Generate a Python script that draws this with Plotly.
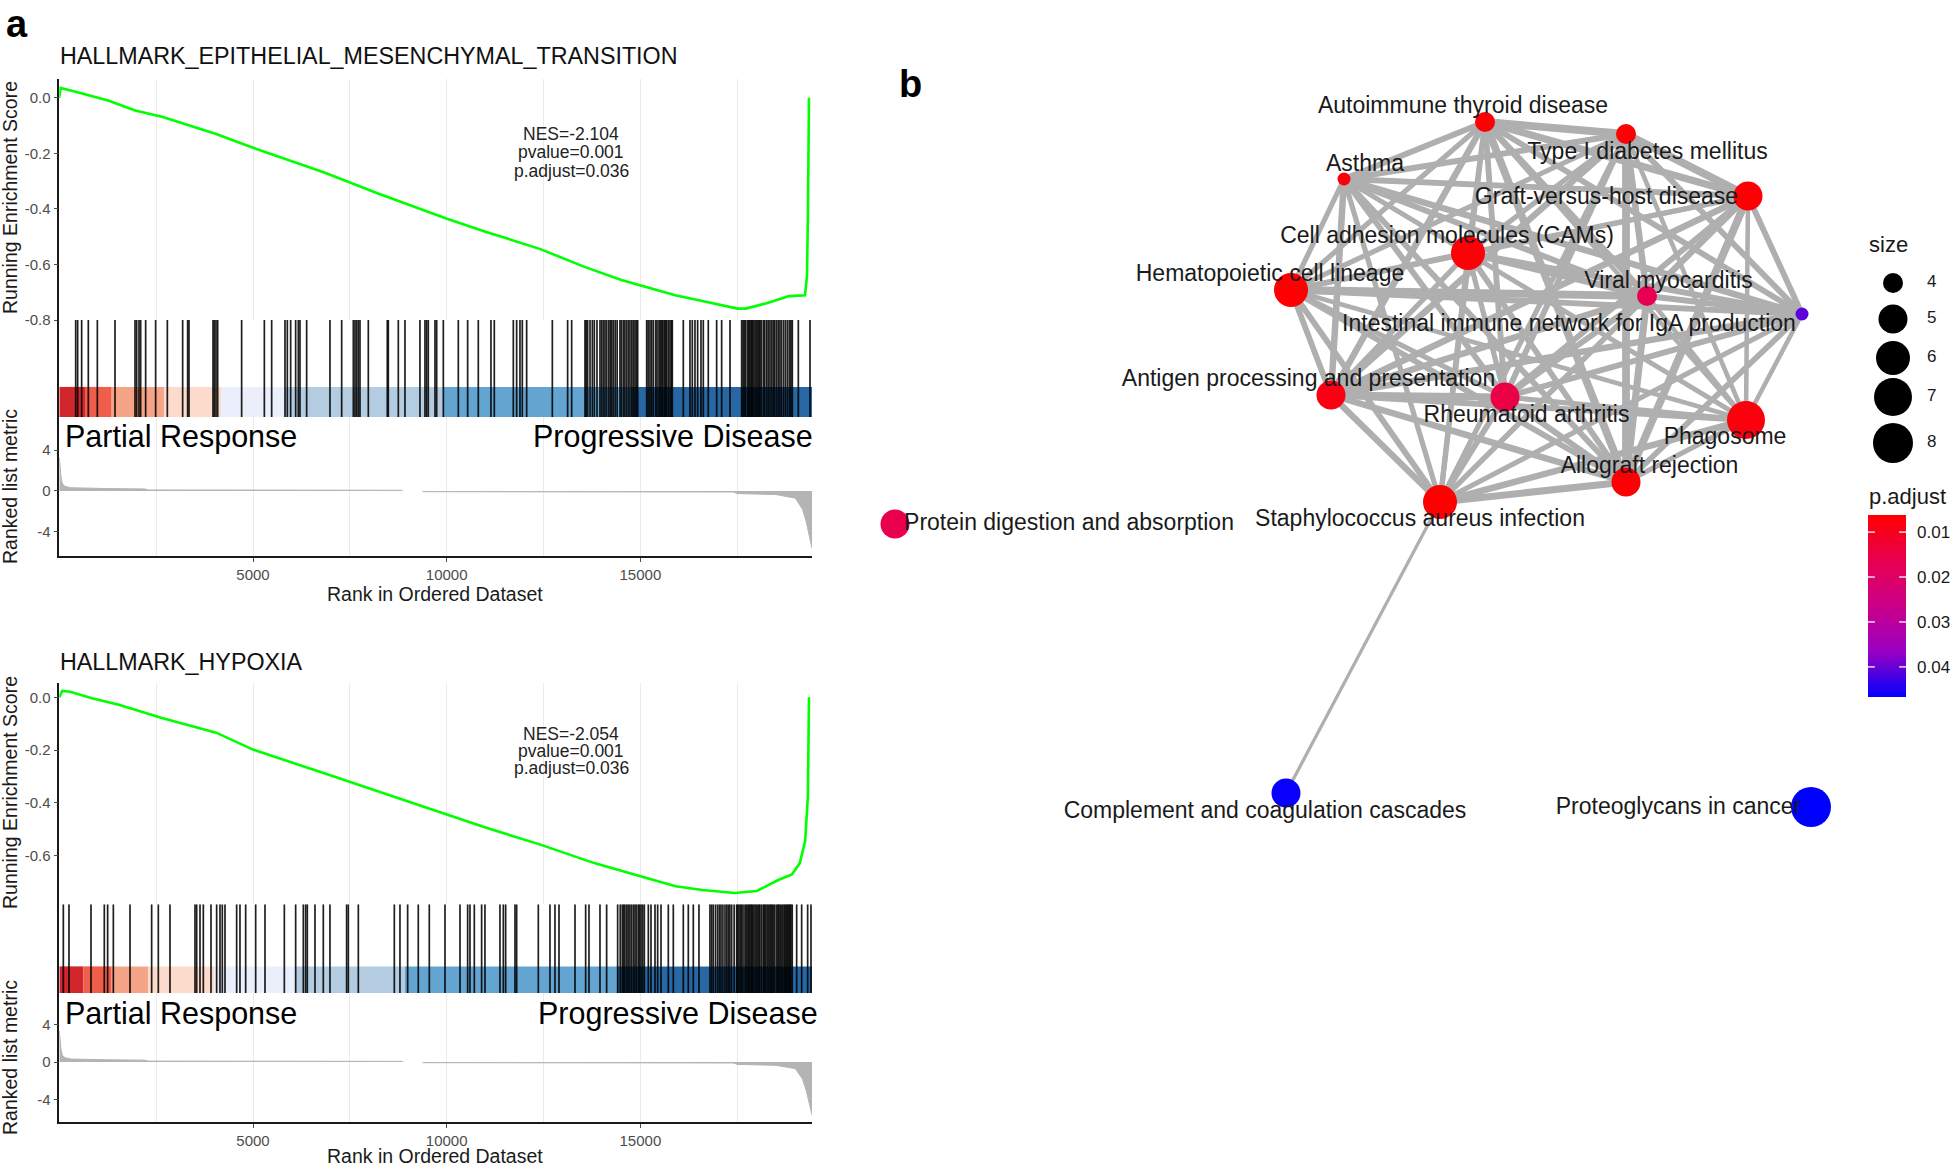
import numpy as np
import plotly.graph_objects as go

W, H = 1952, 1166
FONT = "Liberation Sans, Arial, Helvetica, sans-serif"

# ====================== DATA : panel a ======================
N_GENES = 19430
RANK_TICKS = [5000, 10000, 15000]
RANK_GRID = [2500, 5000, 7500, 10000, 12500, 15000, 17500]
RANK_MINOR = [2500, 7500, 12500, 17500]

# ranked list metric (shared by both GSEA plots)
METRIC_POS_RANK = [0, 20, 45, 80, 150, 300, 600, 1200, 2200, 2300, 5000, 8860]
METRIC_POS_VAL = [3.3, 2.3, 1.3, 0.7, 0.45, 0.32, 0.28, 0.24, 0.2, 0.1, 0.09, 0.07]
METRIC_NEG_RANK = [9380, 12000, 17400, 17500, 18500, 19000, 19185, 19280, 19340, 19400, 19430]
METRIC_NEG_VAL = [-0.07, -0.09, -0.1, -0.25, -0.35, -0.7, -1.8, -3.0, -4.0, -5.2, -5.6]

SEG_COLORS = ['#CD1016', '#EE4D37', '#F49B7A', '#FCD8C7', '#E9EEFC', '#ACC7DE', '#539BCD', '#10589B']

EMT_TITLE = "HALLMARK_EPITHELIAL_MESENCHYMAL_TRANSITION"
EMT_STATS = ["NES=-2.104", "pvalue=0.001", "p.adjust=0.036"]
EMT_ES_RANK = [0, 30, 420, 1260, 1960, 2650, 4050, 5000, 6840, 8230, 9990, 11020, 12420, 13540,
               14510, 15000, 15900, 16600, 17510, 17720, 18280, 18840, 19250, 19300, 19325, 19352]
EMT_ES = [0.0, 0.035, 0.021, -0.010, -0.046, -0.069, -0.131, -0.180, -0.269, -0.345, -0.435, -0.483,
          -0.545, -0.608, -0.656, -0.676, -0.711, -0.732, -0.759, -0.759, -0.739, -0.714, -0.711,
          -0.642, -0.421, 0.0]
EMT_SEG_BREAKS = [0, 663, 1352, 2702, 4174, 5826, 9913, 14756, 19430]
EMT_HITS = [423, 474, 577, 749, 982, 1438, 1954, 1997, 2057, 2100, 2229, 2487, 2789, 3184, 3313, 3348,
            3968, 4002, 4045, 4088, 4707, 5293, 5482, 5826, 5886, 5972, 6101, 6170, 6213, 6385, 6987,
            7289, 7590, 7633, 7676, 7719, 7762, 7977, 8467, 8493, 8751, 8923, 9310, 9439, 9482, 9525,
            9698, 9741, 9913, 10300, 10541, 10816, 11143, 11229, 11720, 11806, 11892, 11952, 12064,
            12727, 13122, 13226, 13570, 13600, 13639, 13700, 13760, 13811, 13880, 13957, 14000, 14043,
            14086, 14129, 14180, 14220, 14260, 14301, 14350, 14400, 14473, 14510, 14559, 14600, 14646,
            14690, 14732, 14780, 14820, 14861, 14900, 14930, 15162, 15200, 15248, 15290, 15334, 15394,
            15430, 15480, 15510, 15549, 15580, 15618, 15650, 15678, 15720, 15764, 15800, 15824, 16108,
            16280, 16340, 16409, 16478, 16564, 16624, 16753, 16969, 17098, 17313, 17614, 17650, 17682,
            17720, 17769, 17800, 17829, 17860, 17889, 17920, 17958, 17990, 18027, 18060, 18087, 18120,
            18173, 18210, 18259, 18300, 18345, 18390, 18431, 18470, 18517, 18560, 18603, 18646, 18700,
            18750, 18801, 18850, 18887, 18922, 19077, 19378]

HYP_TITLE = "HALLMARK_HYPOXIA"
HYP_STATS = ["NES=-2.054", "pvalue=0.001", "p.adjust=0.036"]
HYP_ES_RANK = [0, 73, 283, 840, 1540, 2650, 4050, 5000, 6840, 8230, 9990, 11020, 12420, 13810, 15000,
               15910, 16600, 17440, 18000, 18560, 18910, 19115, 19254, 19324, 19352]
HYP_ES = [0.0, 0.024, 0.021, -0.004, -0.028, -0.078, -0.134, -0.198, -0.288, -0.356, -0.445, -0.494,
          -0.558, -0.628, -0.678, -0.716, -0.730, -0.741, -0.734, -0.692, -0.671, -0.628, -0.544,
          -0.374, 0.0]
HYP_SEG_BREAKS = [0, 620, 1352, 2298, 4002, 6101, 8923, 14387, 19430]
HYP_HITS = [104, 250, 818, 1162, 1248, 1395, 1825, 2384, 2556, 2857, 3503, 3546, 3632, 3718, 3916,
            4062, 4148, 4208, 4277, 4578, 4664, 4811, 5069, 5310, 5809, 6101, 6299, 6359, 6402, 6600,
            6815, 6987, 7417, 7461, 7719, 8648, 8794, 8992, 9267, 9551, 9956, 10343, 10541, 10601,
            10713, 10902, 10988, 11375, 11462, 11522, 11763, 11806, 12365, 12666, 12795, 12899, 13312,
            13587, 13673, 13957, 14129, 14413, 14480, 14533, 14570, 14602, 14650, 14688, 14730, 14774,
            14820, 14861, 14900, 14947, 14980, 15016, 15060, 15102, 15205, 15274, 15377, 15446, 15532,
            15721, 15850, 16108, 16237, 16366, 16512, 16796, 16840, 16882, 16940, 16994, 17040, 17081,
            17130, 17184, 17230, 17270, 17310, 17356, 17420, 17485, 17510, 17545, 17580, 17614, 17650,
            17700, 17730, 17769, 17800, 17829, 17860, 17889, 17920, 17958, 17990, 18027, 18060, 18087,
            18130, 18173, 18200, 18233, 18270, 18302, 18340, 18371, 18400, 18431, 18470, 18517, 18550,
            18577, 18610, 18646, 18680, 18715, 18745, 18775, 18805, 18835, 18860, 18887, 18920, 19034,
            19163, 19318, 19404]

# ====================== DATA : panel b ======================
NODE_NAMES = ["Autoimmune thyroid disease", "Type I diabetes mellitus", "Asthma",
              "Graft-versus-host disease", "Cell adhesion molecules (CAMs)",
              "Hematopoietic cell lineage", "Viral myocarditis",
              "Intestinal immune network for IgA production",
              "Antigen processing and presentation", "Rheumatoid arthritis", "Phagosome",
              "Allograft rejection", "Staphylococcus aureus infection",
              "Protein digestion and absorption", "Complement and coagulation cascades",
              "Proteoglycans in cancer"]
NODE_X = [0.85, 2.26, -0.56, 3.48, 0.68, -1.09, 2.47, 4.02, -0.69, 1.05, 3.46, 2.26, 0.40, -5.05, -1.14, 4.11]
NODE_Y = [4.61, 4.49, 4.04, 3.87, 3.30, 2.93, 2.87, 2.69, 1.88, 1.86, 1.63, 1.01, 0.81, 0.59, -2.10, -2.24]
NODE_SIZE = [4, 4, 3, 5, 6, 6, 4, 3, 5, 5, 7, 5, 6, 5, 5, 8]
NODE_PADJ = [0.0070, 0.0068, 0.0075, 0.0066, 0.0072, 0.0064, 0.0165, 0.0405, 0.0085, 0.0150,
             0.0078, 0.0069, 0.0062, 0.0160, 0.0462, 0.0467]
LABEL_X = [0.63, 2.475, -0.35, 2.065, 0.47, -1.30, 2.685, 1.69, -0.915, 1.265, 3.25, 2.495, 0.20, -3.31, -1.35, 2.785]
LABEL_Y = [4.76, 4.30, 4.18, 3.85, 3.46, 3.08, 3.01, 2.58, 2.03, 1.67, 1.45, 1.16, 0.63, 0.59, -2.29, -2.25]

EDGE_FROM = [0]*12 + [1]*11 + [2]*10 + [3]*9 + [4]*8 + [5]*7 + [6]*6 + [7]*5 + [8]*4 + [9]*3 + [10]*2 + [11] + [12]
EDGE_TO = (list(range(1, 13)) + list(range(2, 13)) + list(range(3, 13)) + list(range(4, 13)) +
           list(range(5, 13)) + list(range(6, 13)) + list(range(7, 13)) + list(range(8, 13)) +
           list(range(9, 13)) + list(range(10, 13)) + list(range(11, 13)) + [12] + [14])
EDGE_WIDTH = [6, 4.5, 5.5, 4, 4, 5, 4.5, 5, 4.5, 3.5, 6, 4,
              4.5, 6, 4, 4, 5, 4.5, 5, 4.5, 3.5, 6, 4,
              4.5, 3.5, 4, 4.5, 5, 5, 4.5, 3.5, 4.5, 4,
              4, 4, 5, 4.5, 5, 4.5, 3.5, 6, 4,
              4.5, 5, 4.5, 4, 4, 3.5, 4.5, 4,
              6, 4.5, 4.5, 4, 3.5, 4.5, 4.5,
              4.5, 5, 4.5, 3.5, 5.5, 4,
              5, 4.5, 3.5, 4.5, 4,
              5.5, 4.5, 5, 5,
              4, 4.5, 4.5,
              4, 5,
              5.5,
              2.5]

LEGEND_SIZES = [4, 5, 6, 7, 8]
PADJ_TICKS = [0.01, 0.02, 0.03, 0.04]

# ====================== STYLE / GEOMETRY ======================
SIZE_LEVELS = [3, 4, 5, 6, 7, 8]
SIZE_PX = [13, 20, 29, 34, 38, 40]
EDGE_SCALE = 1.3
PADJ_SCALE = [[0, '#FF0000'], [0.25, '#E80050'], [0.5, '#CA0089'], [0.75, '#9A00C2'], [1, '#0000FF']]

AXC = '#1A1A1A'
TICKC = '#4D4D4D'
GRIDC = '#EBEBEB'
X_LEFT, X_RIGHT = 59.3, 812.0


def fx(px):
    return px / W


def fy(py):
    return 1 - py / H


def diam(v):
    return np.interp(v, SIZE_LEVELS, SIZE_PX)


GEOMS = [
    dict(title=EMT_TITLE, stats=EMT_STATS, es_rank=EMT_ES_RANK, es=EMT_ES, hits=EMT_HITS,
         seg=EMT_SEG_BREAKS, title_y=55.5, es_dom=(78.5, 320), rug_dom=(320, 417), rank_dom=(417, 556),
         es_range=[-0.8, 0.069], es_ticks=[0, -0.2, -0.4, -0.6, -0.8], rank_range=[-6.37, 7.25],
         es_title_y=198, rank_title_y=487, xtitle_y=594, pr_y=437, pd_right=815,
         nes_y=[134, 152.5, 171], cb_frac=0.31),
    dict(title=HYP_TITLE, stats=HYP_STATS, es_rank=HYP_ES_RANK, es=HYP_ES, hits=HYP_HITS,
         seg=HYP_SEG_BREAKS, title_y=662, es_dom=(682.5, 904.3), rug_dom=(904.3, 993), rank_dom=(993, 1122),
         es_range=[-0.784, 0.056], es_ticks=[0, -0.2, -0.4, -0.6], rank_range=[-6.36, 7.32],
         es_title_y=793, rank_title_y=1058, xtitle_y=1156, pr_y=1014, pd_right=820,
         nes_y=[733.6, 751.4, 768.2], cb_frac=0.30),
]

fig = go.Figure()
layout = dict(width=W, height=H, margin=dict(l=0, r=0, t=0, b=0, autoexpand=False), paper_bgcolor='white',
              plot_bgcolor='rgba(0,0,0,0)', showlegend=False, font=dict(family=FONT, color='#1A1A1A'))
annotations = []


def axname(n):
    return '' if n == 1 else str(n)


for gi, G in enumerate(GEOMS):
    n_es, n_rug, n_rank = 3 * gi + 1, 3 * gi + 2, 3 * gi + 3
    xd = [fx(X_LEFT), fx(X_RIGHT)]
    layout['xaxis' + axname(n_es)] = dict(domain=xd, range=[0, N_GENES], anchor='y' + axname(n_es),
                                          tickvals=RANK_GRID, showticklabels=False, ticks='',
                                          showgrid=True, gridcolor=GRIDC, gridwidth=1, zeroline=False,
                                          showline=False)
    layout['yaxis' + axname(n_es)] = dict(domain=[fy(G['es_dom'][1]), fy(G['es_dom'][0])], range=G['es_range'],
                                          anchor='x' + axname(n_es), tickvals=G['es_ticks'],
                                          ticktext=['%.1f' % v for v in G['es_ticks']],
                                          ticks='outside', ticklen=4, tickcolor=TICKC, tickwidth=1,
                                          tickfont=dict(size=15, color=TICKC), showgrid=False, zeroline=False,
                                          showline=True, linecolor=AXC, linewidth=1.6)
    layout['xaxis' + axname(n_rug)] = dict(domain=xd, range=[0, N_GENES], anchor='y' + axname(n_rug),
                                           visible=False)
    layout['yaxis' + axname(n_rug)] = dict(domain=[fy(G['rug_dom'][1]), fy(G['rug_dom'][0])], range=[0, 1],
                                           anchor='x' + axname(n_rug), showticklabels=False, ticks='',
                                           showgrid=False, zeroline=False, showline=True, linecolor=AXC,
                                           linewidth=1.6)
    layout['xaxis' + axname(n_rank)] = dict(domain=xd, range=[0, N_GENES], anchor='y' + axname(n_rank),
                                            tickvals=RANK_TICKS, ticktext=[str(v) for v in RANK_TICKS],
                                            ticks='outside', ticklen=4, tickcolor=TICKC,
                                            tickfont=dict(size=15, color=TICKC), showgrid=True,
                                            gridcolor=GRIDC, zeroline=False, showline=True, linecolor=AXC,
                                            linewidth=1.6,
                                            minor=dict(tickvals=RANK_MINOR, showgrid=True, gridcolor=GRIDC,
                                                       ticks=''))
    layout['yaxis' + axname(n_rank)] = dict(domain=[fy(G['rank_dom'][1]), fy(G['rank_dom'][0])],
                                            range=G['rank_range'], anchor='x' + axname(n_rank),
                                            tickvals=[4, 0, -4], ticktext=['4', '0', '-4'], ticks='outside',
                                            ticklen=4, tickcolor=TICKC, tickfont=dict(size=15, color=TICKC),
                                            showgrid=False, zeroline=False, showline=True, linecolor=AXC,
                                            linewidth=1.6)

    fig.add_trace(go.Scatter(x=METRIC_POS_RANK, y=METRIC_POS_VAL, mode='lines', fill='tozeroy',
                             fillcolor='#B4B4B4', line=dict(color='#B4B4B4', width=1),
                             xaxis='x' + axname(n_rank), yaxis='y' + axname(n_rank), hoverinfo='skip'))
    fig.add_trace(go.Scatter(x=METRIC_NEG_RANK, y=METRIC_NEG_VAL, mode='lines', fill='tozeroy',
                             fillcolor='#B4B4B4', line=dict(color='#B4B4B4', width=1),
                             xaxis='x' + axname(n_rank), yaxis='y' + axname(n_rank), hoverinfo='skip'))
    rx, ry = [], []
    for h in G['hits']:
        rx += [h, h, None]
        ry += [0, 1, None]
    fig.add_trace(go.Scatter(x=rx, y=ry, mode='lines', line=dict(color='rgba(0,0,0,0.88)', width=1.7),
                             xaxis='x' + axname(n_rug), yaxis='y' + axname(n_rug), hoverinfo='skip'))
    seg = G['seg']
    mids = [(a + b) / 2 for a, b in zip(seg[:-1], seg[1:])]
    wid = [b - a for a, b in zip(seg[:-1], seg[1:])]
    fig.add_trace(go.Bar(x=mids, y=[G['cb_frac']] * len(mids), width=wid, base=0,
                         marker=dict(color=SEG_COLORS, line=dict(width=0)), opacity=0.9,
                         xaxis='x' + axname(n_rug), yaxis='y' + axname(n_rug), hoverinfo='skip'))
    fig.add_trace(go.Scatter(x=G['es_rank'], y=G['es'], mode='lines', line=dict(color='#00FF00', width=2.6),
                             xaxis='x' + axname(n_es), yaxis='y' + axname(n_es), hoverinfo='skip'))

    annotations.append(dict(text=G['title'], x=fx(58), y=fy(G['title_y']), xref='paper', yref='paper',
                            xanchor='left', yanchor='middle', showarrow=False,
                            font=dict(size=23.3, color='#111111')))
    for s, yy in zip(G['stats'], G['nes_y']):
        annotations.append(dict(text=s, x=fx(571), y=fy(yy), xref='paper', yref='paper', xanchor='center',
                                yanchor='middle', showarrow=False, font=dict(size=17.5, color='#222222')))
    annotations.append(dict(text='Partial Response', x=fx(63), y=fy(G['pr_y']), xref='paper', yref='paper',
                            xanchor='left', yanchor='middle', showarrow=False,
                            font=dict(size=30.5, color='#000000')))
    annotations.append(dict(text='Progressive Disease', x=fx(G['pd_right']), y=fy(G['pr_y']), xref='paper',
                            yref='paper', xanchor='right', yanchor='middle', showarrow=False,
                            font=dict(size=30.5, color='#000000')))
    annotations.append(dict(text='Running Enrichment Score', x=fx(10), y=fy(G['es_title_y']), xref='paper',
                            yref='paper', xanchor='center', yanchor='middle', textangle=-90, showarrow=False,
                            font=dict(size=19.5, color='#1A1A1A')))
    annotations.append(dict(text='Ranked list metric', x=fx(10), y=fy(G['rank_title_y']), xref='paper',
                            yref='paper', xanchor='center', yanchor='middle', textangle=-90, showarrow=False,
                            font=dict(size=19.5, color='#1A1A1A')))
    annotations.append(dict(text='Rank in Ordered Dataset', x=fx(435), y=fy(G['xtitle_y']), xref='paper',
                            yref='paper', xanchor='center', yanchor='middle', showarrow=False,
                            font=dict(size=19.5, color='#1A1A1A')))

# ====================== panel b network ======================
layout['xaxis7'] = dict(domain=[fx(850), fx(1950)], range=[-5.5, 5.5], anchor='y7', visible=False)
layout['yaxis7'] = dict(domain=[0, 1], range=[-5.83, 5.83], anchor='x7', visible=False)

widths = sorted(set(EDGE_WIDTH))
for wv in widths:
    ex, ey = [], []
    for f, t, ww in zip(EDGE_FROM, EDGE_TO, EDGE_WIDTH):
        if ww == wv:
            ex += [NODE_X[f], NODE_X[t], None]
            ey += [NODE_Y[f], NODE_Y[t], None]
    fig.add_trace(go.Scatter(x=ex, y=ey, mode='lines', line=dict(color='#AFAFAF', width=wv * EDGE_SCALE),
                             xaxis='x7', yaxis='y7', hoverinfo='skip'))

cmin, cmax = min(NODE_PADJ), max(NODE_PADJ)
fig.add_trace(go.Scatter(
    x=NODE_X, y=NODE_Y, mode='markers', xaxis='x7', yaxis='y7', hoverinfo='skip',
    marker=dict(size=diam(NODE_SIZE), color=NODE_PADJ, colorscale=PADJ_SCALE,
                cmin=cmin, cmax=cmax, line=dict(width=0), opacity=1, showscale=False)))

fig.add_trace(go.Scatter(x=LABEL_X, y=LABEL_Y, mode='text', text=NODE_NAMES, textposition='middle center',
                         textfont=dict(size=23, color='#1A1A1A', family=FONT), xaxis='x7', yaxis='y7',
                         hoverinfo='skip'))

# size legend
LEG_V = [3.00, 2.64, 2.25, 1.86, 1.40]
fig.add_trace(go.Scatter(x=[4.93] * len(LEGEND_SIZES), y=LEG_V, mode='markers',
                         marker=dict(size=diam(LEGEND_SIZES), color='black', opacity=1, line=dict(width=0)),
                         xaxis='x7', yaxis='y7', hoverinfo='skip'))
fig.add_trace(go.Scatter(x=[5.27] * len(LEGEND_SIZES), y=LEG_V, mode='text',
                         text=[str(s) for s in LEGEND_SIZES], textposition='middle right',
                         textfont=dict(size=17, color='#1A1A1A', family=FONT), xaxis='x7', yaxis='y7',
                         hoverinfo='skip'))

# p.adjust colour legend (reversed: low values on top, as in ggplot)
grad = np.linspace(cmin, cmax, 120)
layout['xaxis8'] = dict(domain=[fx(1868), fx(1906)], range=[-0.5, 0.5], anchor='y8', visible=False)
layout['yaxis8'] = dict(domain=[fy(697), fy(515)], range=[cmax, cmin], anchor='x8', side='right',
                        tickvals=PADJ_TICKS, ticktext=['%.2f' % v for v in PADJ_TICKS], ticks='',
                        ticklabelstandoff=10, tickfont=dict(size=17, color='#1A1A1A'),
                        showgrid=False, zeroline=False, showline=False)
fig.add_trace(go.Heatmap(z=[[v] for v in grad], x=[0], y=grad, colorscale=PADJ_SCALE, zmin=cmin, zmax=cmax,
                         showscale=False, xaxis='x8', yaxis='y8', hoverinfo='skip'))
tx, ty = [], []
for v in PADJ_TICKS:
    tx += [-0.5, -0.32, None, 0.32, 0.5, None]
    ty += [v, v, None, v, v, None]
fig.add_trace(go.Scatter(x=tx, y=ty, mode='lines', line=dict(color='white', width=1.3),
                         xaxis='x8', yaxis='y8', hoverinfo='skip'))

annotations.append(dict(text='size', x=fx(1888), y=fy(245), xref='paper', yref='paper', xanchor='center',
                        yanchor='middle', showarrow=False, font=dict(size=22, color='#1A1A1A')))
annotations.append(dict(text='p.adjust', x=fx(1867), y=fy(497), xref='paper', yref='paper', xanchor='left',
                        yanchor='middle', showarrow=False, font=dict(size=22, color='#1A1A1A')))

annotations.append(dict(text='<b>a</b>', x=fx(4), y=fy(24), xref='paper', yref='paper', xanchor='left',
                        yanchor='middle', showarrow=False, font=dict(size=38, color='black')))
annotations.append(dict(text='<b>b</b>', x=fx(897), y=fy(84), xref='paper', yref='paper', xanchor='left',
                        yanchor='middle', showarrow=False, font=dict(size=38, color='black')))

layout['annotations'] = annotations
fig.update_layout(**layout)
fig.write_html("out.html", config={'displayModeBar': False},
               post_script="document.body.style.margin='0px';document.body.style.overflow='hidden';")
